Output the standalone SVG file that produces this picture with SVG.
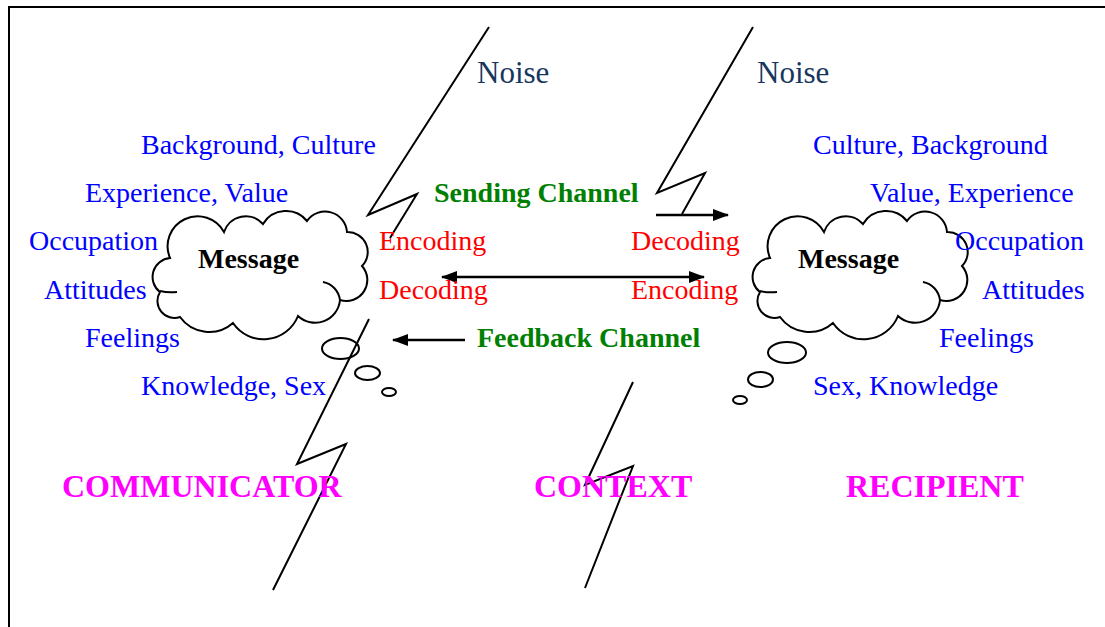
<svg xmlns="http://www.w3.org/2000/svg" width="1105" height="627" viewBox="0 0 1105 627">
<defs>
<style>
.blue{font-family:"Liberation Serif","Times New Roman",serif;font-size:28px;fill:#0000FF}
.red{font-family:"Liberation Serif","Times New Roman",serif;font-size:28px;fill:#FF0000}
.green{font-family:"Liberation Serif","Times New Roman",serif;font-size:28px;font-weight:bold;fill:#008000}
.msg{font-family:"Liberation Serif","Times New Roman",serif;font-size:28px;font-weight:bold;fill:#000}
.mag{font-family:"Liberation Serif","Times New Roman",serif;font-size:32px;font-weight:bold;fill:#FF00FF}
.noise{font-family:"Liberation Serif","Times New Roman",serif;font-size:31px;fill:#17365D}
.bolt{fill:none;stroke:#000;stroke-width:2;stroke-linejoin:miter}
.arrow{fill:none;stroke:#000;stroke-width:2.5}
.cloud{fill:#fff;stroke:#000;stroke-width:2}
.bub{fill:none;stroke:#000;stroke-width:2}
</style>
<marker id="ah" markerWidth="16" markerHeight="12" refX="15" refY="6" orient="auto-start-reverse" markerUnits="userSpaceOnUse">
<path d="M0,0 L16,6 L0,12 z" fill="#000"/>
</marker>
<path id="cloudShape" d="M170,258 A30,30 0 0 1 224,232 A23,23 0 0 1 263,224 A27,27 0 0 1 307,221 A22,22 0 0 1 347,232 A20,20 0 0 1 362,266 A21,21 0 0 1 340,300 A25,25 0 0 1 298,316 A37,37 0 0 1 233,323 A36,36 0 0 1 180,317 A17,17 0 0 1 160,292 A19,19 0 0 1 170,258 Z M323,282 A21,21 0 0 1 340,300 M160,291 Q168,293 177,292"/>
</defs>
<rect x="0" y="0" width="1105" height="627" fill="#fff"/>
<g id="frame">
<line x1="9" y1="7" x2="1105" y2="7" stroke="#000" stroke-width="2"/>
<line x1="9" y1="6" x2="9" y2="627" stroke="#000" stroke-width="2"/>
</g>
<g id="connectors">
<polyline class="bolt" points="489,27 368,215 417,194 390,238"/>
<polyline class="bolt" points="369,319 297,464 346,444 273,590"/>
<polyline class="bolt" points="753,27 657,193 705,173 682,214"/>
<polyline class="bolt" points="633,382 585,485 633,466 585,588"/>
<line class="arrow" x1="656" y1="215" x2="728" y2="215" marker-end="url(#ah)"/>
<line class="arrow" x1="442" y1="277" x2="704" y2="277" marker-start="url(#ah)" marker-end="url(#ah)"/>
<line class="arrow" x1="465" y1="340" x2="393" y2="340" marker-end="url(#ah)"/>
</g>
<g id="communicator">
<use href="#cloudShape" class="cloud"/>
<text class="msg" x="198" y="268">Message</text>
<ellipse class="bub" cx="340.5" cy="348.5" rx="18.5" ry="10.5"/>
<ellipse class="bub" cx="367.5" cy="373" rx="12.5" ry="7"/>
<ellipse class="bub" cx="389" cy="392" rx="7" ry="4"/>
<text class="blue" x="141" y="154">Background, Culture</text>
<text class="blue" x="85" y="202">Experience, Value</text>
<text class="blue" x="29" y="250">Occupation</text>
<text class="blue" x="44" y="299">Attitudes</text>
<text class="blue" x="85" y="347">Feelings</text>
<text class="blue" x="141" y="395">Knowledge, Sex</text>
<text class="mag" x="62" y="497">COMMUNICATOR</text>
</g>
<g id="recipient">
<use href="#cloudShape" class="cloud" transform="translate(600,0)"/>
<text class="msg" x="798" y="268">Message</text>
<ellipse class="bub" cx="787" cy="352.5" rx="19" ry="10.5"/>
<ellipse class="bub" cx="760.5" cy="379.5" rx="12.5" ry="7.5"/>
<ellipse class="bub" cx="740" cy="400" rx="7" ry="4"/>
<text class="blue" x="813" y="154">Culture, Background</text>
<text class="blue" x="870" y="202">Value, Experience</text>
<text class="blue" x="955" y="250">Occupation</text>
<text class="blue" x="982" y="299">Attitudes</text>
<text class="blue" x="939" y="347">Feelings</text>
<text class="blue" x="813" y="395">Sex, Knowledge</text>
<text class="mag" x="846" y="497">RECIPIENT</text>
</g>
<g id="context">
<text class="noise" x="477" y="83">Noise</text>
<text class="noise" x="757" y="83">Noise</text>
<text class="green" x="434" y="202">Sending Channel</text>
<text class="green" x="477" y="347">Feedback Channel</text>
<text class="red" x="379" y="250">Encoding</text>
<text class="red" x="379" y="299">Decoding</text>
<text class="red" x="631" y="250">Decoding</text>
<text class="red" x="631" y="299">Encoding</text>
<text class="mag" x="534" y="497">CONTEXT</text>
</g>
</svg>
